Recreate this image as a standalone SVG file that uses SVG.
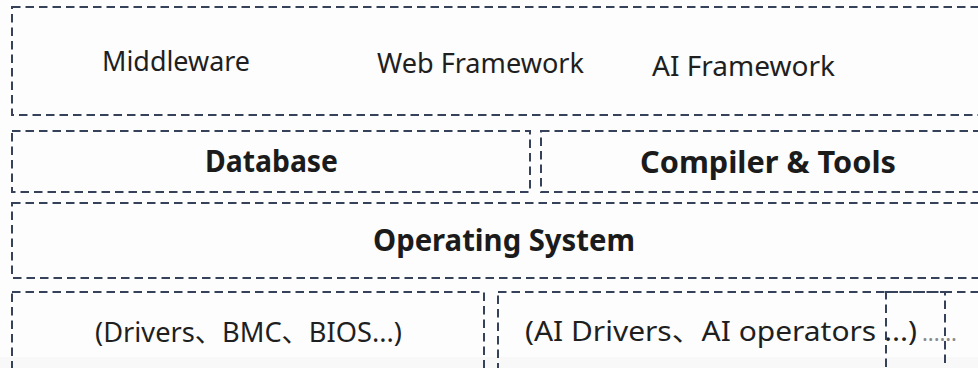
<svg xmlns="http://www.w3.org/2000/svg" width="978" height="368" viewBox="0 0 978 368">
<style>
.box{fill:none;stroke:#36425a;stroke-width:2;stroke-dasharray:8.5 5}
.t{font-family:"Noto Sans","Noto Sans CJK SC",sans-serif;fill:#1f1f1f;font-size:27.5px}
.b{font-family:"Noto Sans","Noto Sans CJK SC",sans-serif;fill:#1b1b1b;font-size:29.5px;font-weight:bold}
</style>
<rect width="978" height="368" fill="#fcfdfc"/>
<rect y="357" width="978" height="11" fill="#f7f8f7"/>
<g id="apps">
<rect class="box" x="12" y="7" width="1000" height="108"/>
<text class="t" x="102" y="71" textLength="148" lengthAdjust="spacingAndGlyphs">Middleware</text>
<text class="t" x="377" y="73" textLength="207" lengthAdjust="spacingAndGlyphs">Web Framework</text>
<text class="t" x="652" y="76" textLength="183" lengthAdjust="spacingAndGlyphs">AI Framework</text>
</g>
<g id="database">
<rect class="box" x="12" y="131" width="518" height="61"/>
<text class="b" x="205" y="172" textLength="133" lengthAdjust="spacingAndGlyphs">Database</text>
</g>
<g id="compiler">
<rect class="box" x="541" y="131" width="500" height="61"/>
<text class="b" x="640" y="173" font-size="31" textLength="256" lengthAdjust="spacingAndGlyphs">Compiler &amp; Tools</text>
</g>
<g id="os">
<rect class="box" x="12" y="203" width="1000" height="75"/>
<text class="b" x="373" y="251" font-size="30" textLength="262" lengthAdjust="spacingAndGlyphs">Operating System</text>
</g>
<g id="drivers">
<rect class="box" x="12" y="292" width="472" height="100"/>
<text class="t" x="95" y="342" font-size="27.5" textLength="307" lengthAdjust="spacingAndGlyphs">(Drivers、BMC、BIOS...)</text>
</g>
<g id="ai-drivers">
<rect class="box" x="498" y="292" width="500" height="100"/>
<text class="t" x="525" y="341" font-size="28.5" textLength="392" lengthAdjust="spacingAndGlyphs">(AI Drivers、AI operators ...)</text>
<text x="922" y="341" font-family="Noto Sans, sans-serif" font-size="22" fill="#8a8a8a" textLength="35" lengthAdjust="spacing">......</text>
</g>
<g id="extra">
<rect class="box" x="886" y="292" width="59" height="100"/>
</g>
<g id="connectors"></g>
</svg>
